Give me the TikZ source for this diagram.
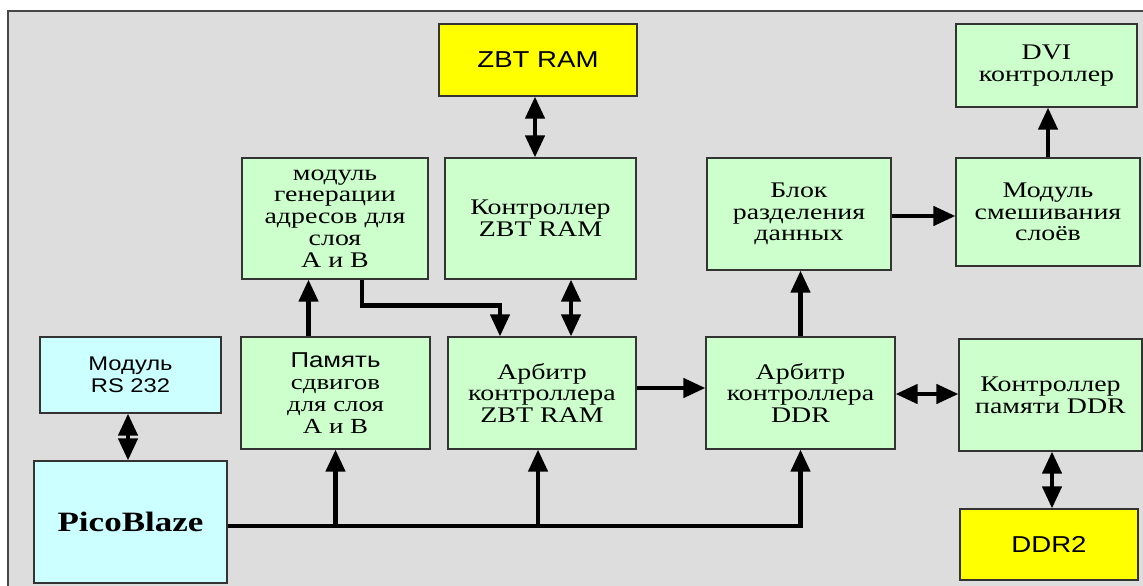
\documentclass[tikz,border=0pt]{standalone}
\usepackage{fontspec}
\setmainfont{Liberation Serif}[FakeStretch=1.25]
\newfontfamily\arialf{Liberation Sans}[FakeStretch=1.2]
\usetikzlibrary{arrows.meta}
\definecolor{bggray}{HTML}{DDDDDD}
\definecolor{lgreen}{HTML}{CCFFCC}
\definecolor{lcyan}{HTML}{CCFFFF}
\definecolor{yel}{HTML}{FFFF00}
\definecolor{edge}{HTML}{333333}
\tikzset{
 box/.style={draw=edge, line width=1.2pt, inner sep=0pt, align=center, font=\fontsize{22.3}{21.8}\selectfont},
 gbox/.style={box, fill=lgreen},
 cbox/.style={box, fill=lcyan},
 ybox/.style={box, fill=yel, font=\arialf\fontsize{23}{23}\selectfont},
 conn/.style={line width=4.3pt, black, line join=miter},
 arr/.style={conn, -{Triangle[width=19pt,length=22pt]}},
 darr/.style={conn, {Triangle[width=19pt,length=22pt]}-{Triangle[width=19pt,length=22pt]}},
}
\begin{document}
\begin{tikzpicture}[x=1pt,y=-1pt]
\useasboundingbox (0,0) rectangle (1143,586);
\fill[white] (0,0) rectangle (1143,586);
\begin{scope}
\clip (0,0) rectangle (1143,586);
\draw[fill=bggray, draw=edge!90, line width=2pt] (8,11) rectangle (1160,600);
\end{scope}

\node[ybox, minimum width=198pt, minimum height=72pt] (zbt) at (538,60) {ZBT RAM};
\node[gbox, minimum width=191pt, minimum height=121pt] (ctlzbt) at (540.5,218.5) {Контроллер\\ZBT RAM};
\node[gbox, minimum width=186pt, minimum height=121pt] (gen) at (335,218.5) {модуль\\генерации\\адресов для\\слоя\\А и В};
\node[gbox, minimum width=184pt, minimum height=112pt] (blok) at (799,214) {Блок\\разделения\\данных};
\node[gbox, minimum width=184pt, minimum height=108pt] (mix) at (1048,212) {Модуль\\смешивания\\слоёв};
\node[gbox, minimum width=181pt, minimum height=83pt] (dvi) at (1046.5,65.5) {DVI\\контроллер};
\node[cbox, minimum width=181pt, minimum height=76pt, font=\arialf\fontsize{19.8}{22}\selectfont] (rs) at (130.5,375) {Модуль\\RS 232};
\node[cbox, minimum width=193pt, minimum height=122pt, font=\bfseries\fontsize{28}{28}\selectfont] (pico) at (130.5,522) {PicoBlaze};
\node[gbox, minimum width=189pt, minimum height=112pt, font=\fontsize{21.5}{22}\selectfont] (pam) at (335.5,393) {{\arialf\fontsize{21.5}{22}\selectfont Память}\\сдвигов\\для слоя\\А и В};
\node[gbox, minimum width=188pt, minimum height=112pt] (arbzbt) at (542,393) {Арбитр\\контроллера\\ZBT RAM};
\node[gbox, minimum width=189pt, minimum height=112pt] (arbddr) at (800.5,393) {Арбитр\\контроллера\\DDR};
\node[gbox, minimum width=183pt, minimum height=112pt] (ctlddr) at (1050.5,395) {Контроллер\\памяти DDR};
\node[ybox, minimum width=178pt, minimum height=71pt] (ddr2) at (1049,544.5) {DDR2};

% connectors
\draw[darr] ([xshift=-3pt]zbt.south) -- ([xshift=-3pt]zbt.south |- ctlzbt.north);
\draw[darr] ([xshift=29pt]arbzbt.north |- ctlzbt.south) -- ([xshift=29pt]arbzbt.north);
\draw[arr] ([xshift=27pt]gen.south) -- ++(0,26) -| ([xshift=-42pt]arbzbt.north);
\draw[arr] ([xshift=-27pt]pam.north) -- ([xshift=-27pt]pam.north |- gen.south);
\coordinate (bus) at ([yshift=-4pt]pico.east);
\coordinate (azin) at ([xshift=-4pt]arbzbt.south);
\draw[arr] (bus) -| (arbddr.south);
\draw[arr] (bus -| pam.south) -- (pam.south);
\draw[arr] (bus -| azin) -- (azin);
\draw[arr] ([yshift=5pt]arbzbt.east) -- ([yshift=5pt]arbzbt.east -| arbddr.west);
\draw[arr] (arbddr.north) -- (arbddr.north |- blok.south);
\draw[arr] ([yshift=-2pt]blok.east) -- ([yshift=-2pt]blok.east -| mix.west);
\draw[arr] (mix.north) -- (mix.north |- dvi.south);
\draw[darr] ([yshift=-1pt]arbddr.east) -- ([yshift=-1pt]arbddr.east -| ctlddr.west);
\draw[darr] ([xshift=1.5pt]ctlddr.south) -- ([xshift=1.5pt]ctlddr.south |- ddr2.north);
\draw[darr] ([xshift=-2.5pt]rs.south) -- ([xshift=-2.5pt]rs.south |- pico.north);
\end{tikzpicture}
\end{document}
